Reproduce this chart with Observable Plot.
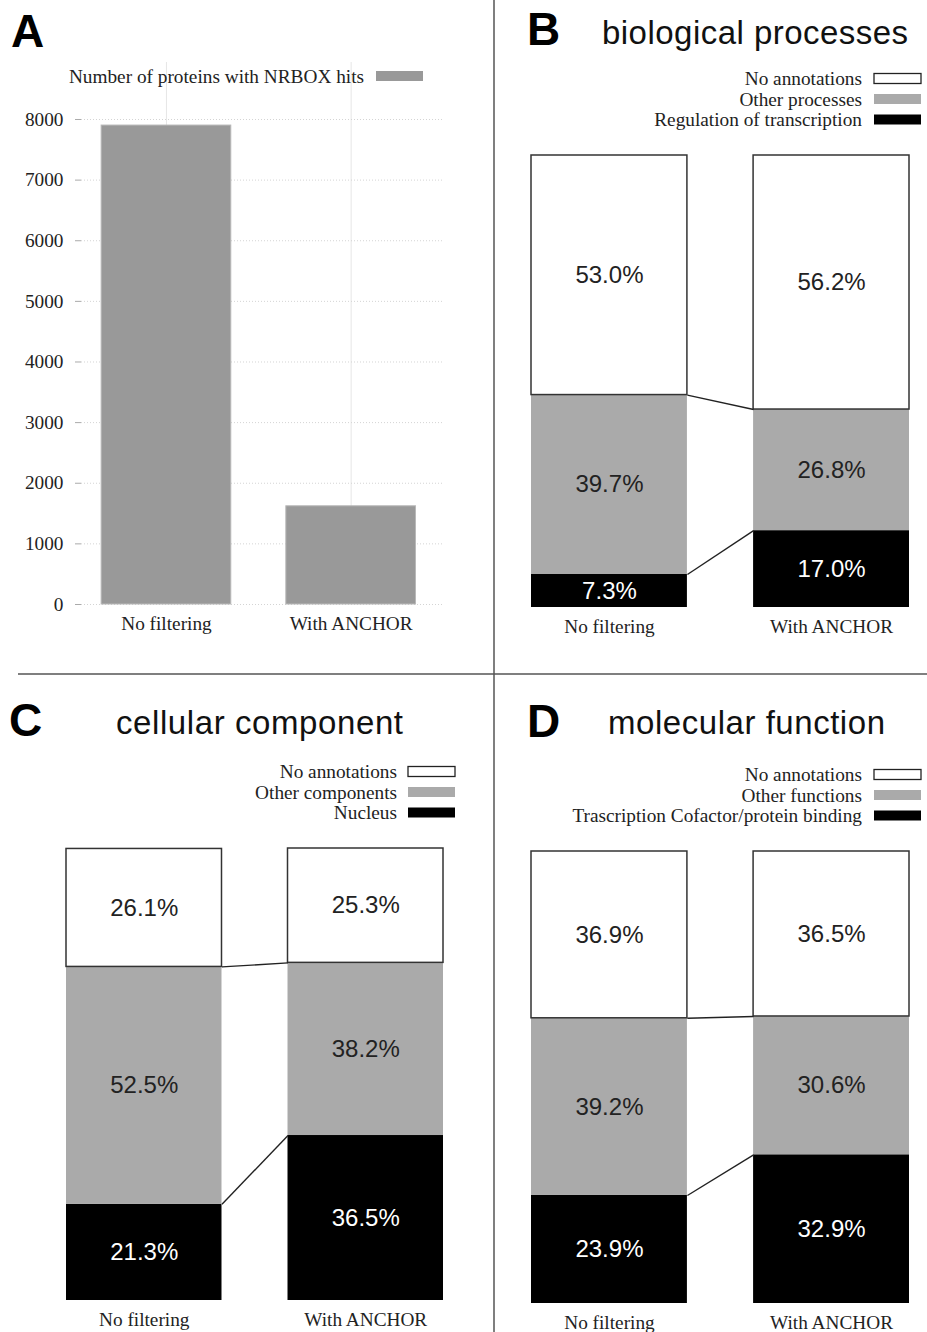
<!DOCTYPE html>
<html><head><meta charset="utf-8">
<script src="https://cdn.jsdelivr.net/npm/d3@7"></script>
<script src="https://cdn.jsdelivr.net/npm/@observablehq/plot@0.6"></script>
<style>
html,body{margin:0;padding:0;background:#fff;}
#root{position:relative;width:927px;height:1332px;overflow:hidden;background:#fff;}
</style></head><body><div id="root"></div>
<script>
// ---- data ----
const conditions = ["No filtering", "With ANCHOR"];
const nrboxCounts = [7900, 1620];
const countTicks = [0, 1000, 2000, 3000, 4000, 5000, 6000, 7000, 8000];
const countLegend = "Number of proteins with NRBOX hits";

const bpCategories = ["Regulation of transcription", "Other processes", "No annotations"];
const bpNoFiltering = [7.3, 39.7, 53.0];
const bpWithAnchor = [17.0, 26.8, 56.2];

const ccCategories = ["Nucleus", "Other components", "No annotations"];
const ccNoFiltering = [21.3, 52.5, 26.1];
const ccWithAnchor = [36.5, 38.2, 25.3];

const mfCategories = ["Trascription Cofactor/protein binding", "Other functions", "No annotations"];
const mfNoFiltering = [23.9, 39.2, 36.9];
const mfWithAnchor = [32.9, 30.6, 36.5];

// ---- style ----
const SERIF = "'Liberation Serif', 'DejaVu Serif', serif";
const SANS = "'Liberation Sans', Arial, sans-serif";
const FILLS = ["#000000", "#aaaaaa", "#ffffff"];
const root = document.getElementById("root");

function place(el, left, top) {
  el.style.position = "absolute";
  el.style.left = left + "px";
  el.style.top = top + "px";
  root.appendChild(el);
}

// ---- Panel A ----
const countRows = conditions.map((c, i) => ({i, c, n: nrboxCounts[i]}));
const chartA = Plot.plot({
  width: 494, height: 604,
  marginLeft: 81, marginRight: 51, marginTop: 22, marginBottom: 40,
  x: {domain: [-0.46, 1.5], label: null},
  y: {domain: [0, 8940], label: null},
  style: {fontFamily: SERIF, fontSize: "19px", color: "#222", background: "transparent"},
  marks: [
    Plot.gridX({ticks: [0, 1], stroke: "#e6e6e6", strokeOpacity: 1}),
    Plot.gridY({ticks: countTicks, stroke: "#d4d4d4", strokeOpacity: 1, strokeDasharray: "1,2"}),
    Plot.rectY(countRows, {x1: d => d.i - 0.351, x2: d => d.i + 0.351, y1: 0, y2: "n", fill: "#999999", stroke: "#b8b8b8", strokeWidth: 1}),
    Plot.axisY({ticks: countTicks, label: null, tickSize: 6, tickPadding: 12, stroke: "#aaa", fill: "#222", fontSize: 19.3, fontFamily: SERIF, tickFormat: d => String(d)}),
    Plot.axisX({ticks: [0, 1], label: null, tickFormat: i => conditions[i], tickSize: 0, tickPadding: 12, fill: "#222", fontSize: 19.3, fontFamily: SERIF})
  ]
});
place(chartA, 0, 40);

// ---- stacked panels ----
function stackPanel(categories, noFilt, withAnchor, cfg) {
  const values = [noFilt, withAnchor];
  const rows = [];
  values.forEach((vals, i) => {
    let acc = 0;
    vals.forEach((v, k) => {
      rows.push({i, k, v, y1: acc, y2: acc + v, cat: categories[k]});
      acc += v;
    });
  });
  const links = [0, 1].map(k => ({
    k,
    ya: rows.find(r => r.i === 0 && r.k === k).y2,
    yb: rows.find(r => r.i === 1 && r.k === k).y2
  }));
  const half = 0.351;
  const chart = Plot.plot({
    width: cfg.width, height: cfg.height,
    marginLeft: cfg.marginLeft, marginRight: cfg.marginRight,
    marginTop: cfg.marginTop, marginBottom: cfg.marginBottom,
    x: {domain: [-half, 1 + half], label: null},
    y: {domain: [0, 100], axis: null, label: null},
    color: {type: "identity"},
    style: {fontFamily: SERIF, fontSize: "19px", color: "#222", background: "transparent"},
    marks: [
      Plot.rectY(rows.filter(r => r.k < 2), {x1: d => d.i - half, x2: d => d.i + half, y1: "y1", y2: "y2", fill: d => FILLS[d.k]}),
      Plot.rectY(rows.filter(r => r.k === 2), {x1: d => d.i - half, x2: d => d.i + half, y1: "y1", y2: "y2", fill: "#fff", stroke: "#333", strokeWidth: 1.5}),
      Plot.link(links, {x1: d => half, x2: d => 1 - half, y1: "ya", y2: "yb", stroke: "#222", strokeWidth: 1.4}),
      Plot.text(rows, {x: "i", y: d => (d.y1 + d.y2) / 2, text: d => d.v.toFixed(1) + "%", fill: d => d.k === 0 ? "#fff" : "#222", fontSize: 24, fontFamily: SANS}),
      Plot.axisX({ticks: [0, 1], label: null, tickFormat: i => conditions[i], tickSize: 0, tickPadding: 12, fill: "#222", fontSize: 19.3, fontFamily: SERIF})
    ]
  });
  place(chart, cfg.left, cfg.top);
}

stackPanel(bpCategories, bpNoFiltering, bpWithAnchor,
  {left: 494, top: 140, width: 433, height: 500, marginLeft: 37, marginRight: 18, marginTop: 15, marginBottom: 33});
stackPanel(ccCategories, ccNoFiltering, ccWithAnchor,
  {left: 0, top: 830, width: 494, height: 502, marginLeft: 66, marginRight: 51, marginTop: 18, marginBottom: 32});
stackPanel(mfCategories, mfNoFiltering, mfWithAnchor,
  {left: 494, top: 830, width: 433, height: 502, marginLeft: 37, marginRight: 18, marginTop: 21, marginBottom: 29});

// ---- overlay: dividers, titles, legends ----
const svg = d3.select(root).append("svg")
  .attr("width", 927).attr("height", 1332)
  .style("position", "absolute").style("left", "0px").style("top", "0px");

svg.append("line").attr("x1", 494).attr("x2", 494).attr("y1", 0).attr("y2", 1332)
  .attr("stroke", "#555").attr("stroke-width", 1.5);
svg.append("line").attr("x1", 18).attr("x2", 927).attr("y1", 674).attr("y2", 674)
  .attr("stroke", "#555").attr("stroke-width", 1.5);

function letter(t, x, y) {
  svg.append("text").attr("x", x).attr("y", y).text(t)
    .attr("font-family", SANS).attr("font-weight", "bold").attr("font-size", 46).attr("fill", "#000");
}
function title(t, x, y, len) {
  svg.append("text").attr("x", x).attr("y", y).text(t)
    .attr("font-family", SANS).attr("font-size", 33).attr("fill", "#111")
    .attr("textLength", len).attr("lengthAdjust", "spacing");
}
letter("A", 11, 47);
letter("B", 527, 45);
title("biological processes", 602, 44, 306);
letter("C", 9, 736);
title("cellular component", 116, 734, 287);
letter("D", 527, 737);
title("molecular function", 608, 734, 277);

function legendRow(label, k, textRight, swatchLeft, yc) {
  svg.append("text").attr("x", textRight).attr("y", yc).attr("dy", "0.35em")
    .attr("text-anchor", "end").attr("font-family", SERIF).attr("font-size", 19.3).attr("fill", "#222")
    .text(label);
  svg.append("rect").attr("x", swatchLeft).attr("y", yc - 5).attr("width", 47).attr("height", 10)
    .attr("fill", k === -1 ? "#999999" : FILLS[k])
    .attr("stroke", k === 2 ? "#222" : "none").attr("stroke-width", 1.3);
}
legendRow(countLegend, -1, 364, 376, 76);
function stackLegend(categories, textRight, swatchLeft, y0) {
  [2, 1, 0].forEach((k, j) => legendRow(categories[k], k, textRight, swatchLeft, y0 + j * 20.5));
}
stackLegend(bpCategories, 862, 874, 78.5);
stackLegend(ccCategories, 397, 408, 771.5);
stackLegend(mfCategories, 862, 874, 774.5);
</script>
</body></html>
